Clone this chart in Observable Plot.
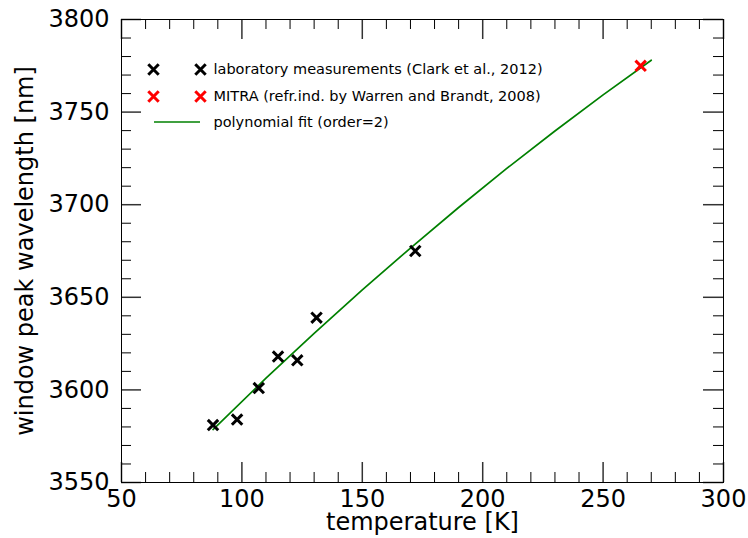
<!DOCTYPE html>
<html>
<head>
<meta charset="utf-8">
<script src="https://cdn.jsdelivr.net/npm/d3@7"></script>
<script src="https://cdn.jsdelivr.net/npm/@observablehq/plot@0.6"></script>
<style>
  html, body { margin: 0; padding: 0; background: #fff; }
  #chart { width: 748px; height: 538px; }
</style>
</head>
<body>
<div id="chart"></div>
<script>
// Laboratory measurements (Clark et al., 2012)
const labTemp = [88, 98, 107, 115, 123, 131, 172];
const labPeak = [3581, 3584, 3601, 3618, 3616, 3639, 3675];
// MITRA (refr.ind. by Warren and Brandt, 2008)
const mitraTemp = [265.6];
const mitraPeak = [3775];
// polynomial fit (order=2)
const fitTemp = [88, 110, 130, 150, 170, 190, 210, 230, 250, 270];
const fitPeak = [3578.6, 3606.3, 3630.5, 3654.0, 3676.6, 3698.5, 3719.6, 3739.8, 3759.3, 3778.0];
// axis ticks
const xMajor = [50, 100, 150, 200, 250, 300];
const xMinor = d3.range(60, 300, 10).filter(v => v % 50 !== 0);
const yMajor = [3550, 3600, 3650, 3700, 3750, 3800];
const yMinor = d3.range(3560, 3800, 10).filter(v => v % 50 !== 0);
// legend labels
const legendLabels = [
  "laboratory measurements (Clark et al., 2012)",
  "MITRA (refr.ind. by Warren and Brandt, 2008)",
  "polynomial fit (order=2)"
];
const xTitle = "temperature [K]";
const yTitle = "window peak wavelength [nm]";

const lab = labTemp.map((t, i) => ({t, p: labPeak[i]}));
const mitra = mitraTemp.map((t, i) => ({t, p: mitraPeak[i]}));
const fit = fitTemp.map((t, i) => ({t, p: fitPeak[i]}));

const W = 748, H = 538;
const mT = 19, mR = 25, mB = 56, mL = 121;
const innerH = H - mT - mB;
const innerW = W - mL - mR;
const MAJ = 20, MIN = 10;
const font = "DejaVu Sans";

const lineSymbol = {
  draw(ctx) { ctx.moveTo(-23, 0); ctx.lineTo(23, 0); }
};

const markerOpts = {symbol: "times", r: 4.8, strokeWidth: 3, fill: "none"};
const fmt = d => String(d);

const chart = Plot.plot({
  width: W,
  height: H,
  marginTop: mT, marginRight: mR, marginBottom: mB, marginLeft: mL,
  style: {fontFamily: font, background: "#fff", color: "black"},
  x: {domain: [50, 300]},
  y: {domain: [3550, 3800]},
  marks: [
    // ticks (inward, all four sides)
    Plot.tickX(xMinor, {x: d => d, insetTop: innerH - MIN, stroke: "black", strokeWidth: 1}),
    Plot.tickX(xMinor, {x: d => d, insetBottom: innerH - MIN, stroke: "black", strokeWidth: 1}),
    Plot.tickX(xMajor, {x: d => d, insetTop: innerH - MAJ, stroke: "#333", strokeWidth: 1.5}),
    Plot.tickX(xMajor, {x: d => d, insetBottom: innerH - MAJ, stroke: "#333", strokeWidth: 1.5}),
    Plot.tickY(yMinor, {y: d => d, insetRight: innerW - MIN, stroke: "black", strokeWidth: 1}),
    Plot.tickY(yMinor, {y: d => d, insetLeft: innerW - MIN, stroke: "black", strokeWidth: 1}),
    Plot.tickY(yMajor, {y: d => d, insetRight: innerW - MAJ, stroke: "#333", strokeWidth: 1.5}),
    Plot.tickY(yMajor, {y: d => d, insetLeft: innerW - MAJ, stroke: "#333", strokeWidth: 1.5}),
    // tick labels
    Plot.axisX(xMajor, {tickSize: 0, tickPadding: 7, fontSize: 24, label: null, tickFormat: fmt}),
    Plot.axisY(yMajor, {tickSize: 0, tickPadding: 12, fontSize: 24, label: null, tickFormat: fmt}),
    // axis titles
    Plot.text([xTitle], {text: d => d, frameAnchor: "bottom", dy: 40, lineAnchor: "middle", textAnchor: "middle", fontSize: 24, fill: "black"}),
    Plot.text([yTitle], {text: d => d, frameAnchor: "left", dx: -96, rotate: -90, textAnchor: "middle", lineAnchor: "middle", fontSize: 24, fill: "black"}),
    // data
    Plot.line(fit, {x: "t", y: "p", stroke: "#008000", strokeWidth: 1.7}),
    Plot.dot(lab, {x: "t", y: "p", stroke: "black", ...markerOpts}),
    Plot.dot(mitra, {x: "t", y: "p", stroke: "#ff0000", ...markerOpts}),
    // legend
    Plot.dot([0], {frameAnchor: "top-left", dx: 32, dy: 50, stroke: "black", ...markerOpts}),
    Plot.dot([0], {frameAnchor: "top-left", dx: 79, dy: 50, stroke: "black", ...markerOpts}),
    Plot.dot([0], {frameAnchor: "top-left", dx: 32, dy: 77, stroke: "#ff0000", ...markerOpts}),
    Plot.dot([0], {frameAnchor: "top-left", dx: 79, dy: 77, stroke: "#ff0000", ...markerOpts}),
    Plot.dot([0], {frameAnchor: "top-left", dx: 55.5, dy: 102.5, symbol: lineSymbol, r: 5, stroke: "#008000", strokeWidth: 1.7, fill: "none"}),
    Plot.text([legendLabels[0]], {text: d => d, frameAnchor: "top-left", dx: 92, dy: 50, textAnchor: "start", lineAnchor: "middle", fontSize: 14.5, fill: "black"}),
    Plot.text([legendLabels[1]], {text: d => d, frameAnchor: "top-left", dx: 92, dy: 77, textAnchor: "start", lineAnchor: "middle", fontSize: 14.5, fill: "black"}),
    Plot.text([legendLabels[2]], {text: d => d, frameAnchor: "top-left", dx: 92, dy: 102.5, textAnchor: "start", lineAnchor: "middle", fontSize: 14.5, fill: "black"}),
    Plot.frame({stroke: "black", strokeWidth: 1})
  ]
});
document.getElementById("chart").appendChild(chart);
</script>
</body>
</html>
